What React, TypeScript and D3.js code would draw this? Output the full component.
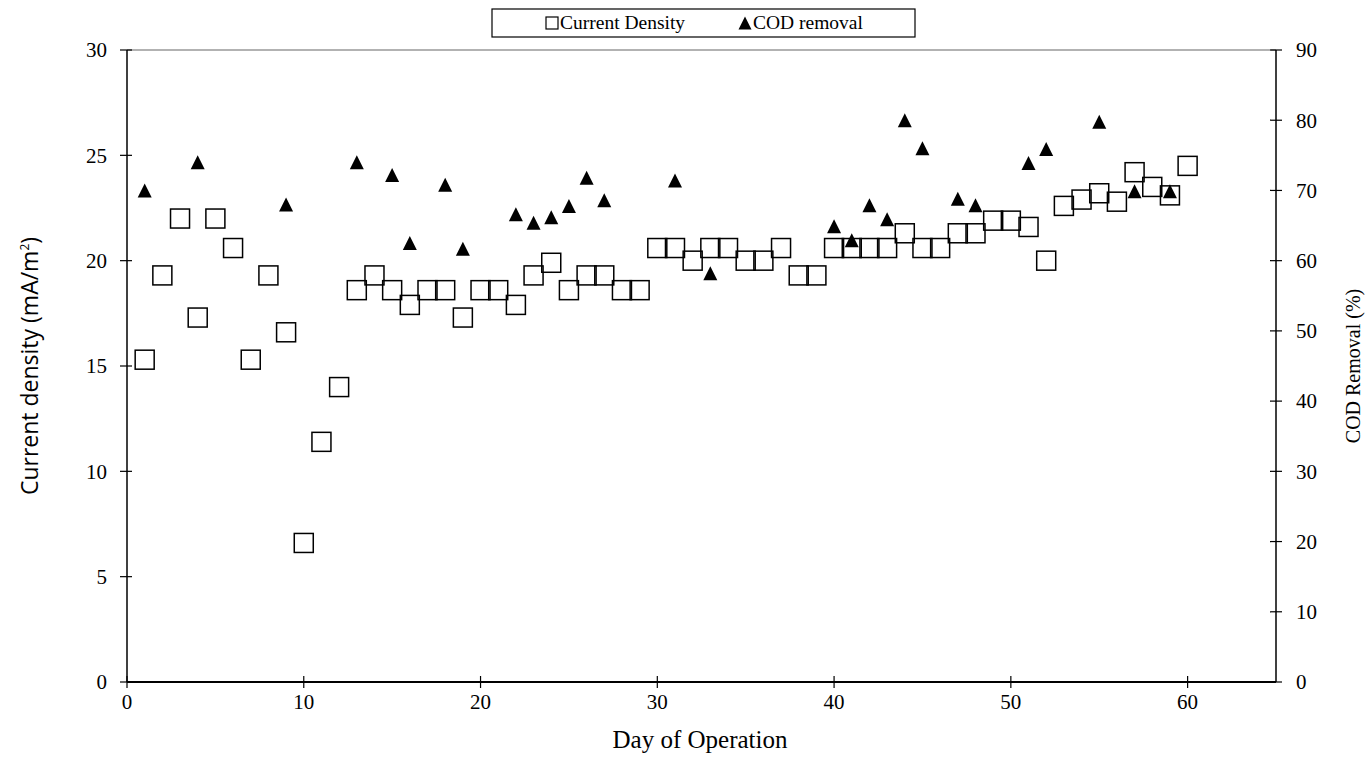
import React from "react";
import * as d3 from "d3";

// current density (mA/m2), one reading per day 1..60
const cdDays = d3.range(1, 61);
const cdValues = [
  15.3, 19.3, 22.0, 17.3, 22.0, 20.6, 15.3, 19.3, 16.6, 6.6,
  11.4, 14.0, 18.6, 19.3, 18.6, 17.9, 18.6, 18.6, 17.3, 18.6,
  18.6, 17.9, 19.3, 19.9, 18.6, 19.3, 19.3, 18.6, 18.6, 20.6,
  20.6, 20.0, 20.6, 20.6, 20.0, 20.0, 20.6, 19.3, 19.3, 20.6,
  20.6, 20.6, 20.6, 21.3, 20.6, 20.6, 21.3, 21.3, 21.9, 21.9,
  21.6, 20.0, 22.6, 22.9, 23.2, 22.8, 24.2, 23.5, 23.1, 24.5,
];

// COD removal (%)
const codDays = [1, 4, 9, 13, 15, 16, 18, 19, 22, 23, 24, 25, 26, 27, 31, 33, 40, 41, 42, 43, 44, 45, 47, 48, 51, 52, 55, 57, 59];
const codValues = [70, 74, 68, 74, 72.2, 62.5, 70.8, 61.7, 66.6, 65.4, 66.2, 67.8, 71.8, 68.6, 71.4, 58.2, 64.9, 62.9, 67.9, 65.9, 80, 76, 68.8, 67.9, 73.9, 75.9, 79.8, 69.9, 69.9];

const xTicks = [0, 10, 20, 30, 40, 50, 60];
const leftTicks = [0, 5, 10, 15, 20, 25, 30];
const rightTicks = [0, 10, 20, 30, 40, 50, 60, 70, 80, 90];

const W = 1369;
const H = 767;
const serif = "'Liberation Serif', 'Times New Roman', serif";

export default function App() {
  const x = d3.scaleLinear().domain([0, 65]).range([127, 1276]);
  const yL = d3.scaleLinear().domain([0, 30]).range([682, 50]);
  const yR = d3.scaleLinear().domain([0, 90]).range([682, 50]);

  const x0 = x(0);
  const x1 = x(65);
  const yBot = yL(0);
  const yTop = yL(30);

  const sq = 19;
  const triPath = (cx: number, cy: number, s: number) =>
    `M${cx},${cy - s / 2}L${cx + s / 2},${cy + s / 2}L${cx - s / 2},${cy + s / 2}Z`;

  return (
    <svg
      width={W}
      height={H}
      style={{ position: "absolute", left: 0, top: 0, background: "#fff" }}
    >
      {/* frame */}
      <line x1={x0} x2={x1} y1={yTop} y2={yTop} stroke="#999" strokeWidth={1.5} />
      <line x1={x0} x2={x0} y1={yTop} y2={yBot} stroke="#000" strokeWidth={1.5} />
      <line x1={x1} x2={x1} y1={yTop} y2={yBot} stroke="#000" strokeWidth={1.5} />
      <line x1={x0} x2={x1} y1={yBot} y2={yBot} stroke="#000" strokeWidth={2} />

      {/* left axis */}
      {leftTicks.map((t) => (
        <g key={"l" + t}>
          <line x1={x0 - 7} x2={x0 + 5} y1={yL(t)} y2={yL(t)} stroke="#000" strokeWidth={1.2} />
          <text x={x0 - 20} y={yL(t)} dy="0.35em" textAnchor="end" fontFamily={serif} fontSize={21}>
            {t}
          </text>
        </g>
      ))}

      {/* right axis */}
      {rightTicks.map((t) => (
        <g key={"r" + t}>
          <line x1={x1 - 6} x2={x1 + 6} y1={yR(t)} y2={yR(t)} stroke="#000" strokeWidth={1.2} />
          <text x={x1 + 20} y={yR(t)} dy="0.35em" textAnchor="start" fontFamily={serif} fontSize={21}>
            {t}
          </text>
        </g>
      ))}

      {/* bottom axis */}
      {xTicks.map((t) => (
        <g key={"b" + t}>
          <line x1={x(t)} x2={x(t)} y1={yBot - 6} y2={yBot + 6} stroke="#000" strokeWidth={1.2} />
          <text x={x(t)} y={yBot + 27} textAnchor="middle" fontFamily={serif} fontSize={21}>
            {t}
          </text>
        </g>
      ))}

      {/* axis titles */}
      <text x={700} y={748} textAnchor="middle" fontFamily={serif} fontSize={25}>
        Day of Operation
      </text>
      <text
        transform={`translate(38,${(yTop + yBot) / 2}) rotate(-90)`}
        textAnchor="middle"
        fontFamily="'Open Sans', sans-serif"
        fontSize={23}
      >
        Current density (mA/m<tspan dy="-9" fontSize={12}>2</tspan>
        <tspan dy="9">)</tspan>
      </text>
      <text
        transform={`translate(1360,${(yTop + yBot) / 2}) rotate(-90)`}
        textAnchor="middle"
        fontFamily={serif}
        fontSize={20}
      >
        COD Removal (%)
      </text>

      {/* current density squares */}
      {cdDays.map((d, i) => (
        <rect
          key={"s" + d}
          x={x(d) - sq / 2}
          y={yL(cdValues[i]) - sq / 2}
          width={sq}
          height={sq}
          fill="none"
          stroke="#000"
          strokeWidth={1.5}
        />
      ))}

      {/* COD triangles */}
      {codDays.map((d, i) => (
        <path key={"t" + d} d={triPath(x(d), yR(codValues[i]), 14)} fill="#000" />
      ))}

      {/* legend */}
      <rect x={492} y={9} width={423} height={28} fill="#fff" stroke="#000" strokeWidth={1.2} />
      <rect x={546} y={17} width={12} height={12} fill="#fff" stroke="#000" strokeWidth={1.2} />
      <text x={560} y={29} fontFamily={serif} fontSize={19.5}>
        Current Density
      </text>
      <path d={triPath(745, 23, 13)} fill="#000" />
      <text x={753} y={29} fontFamily={serif} fontSize={19.5}>
        COD removal
      </text>
    </svg>
  );
}
